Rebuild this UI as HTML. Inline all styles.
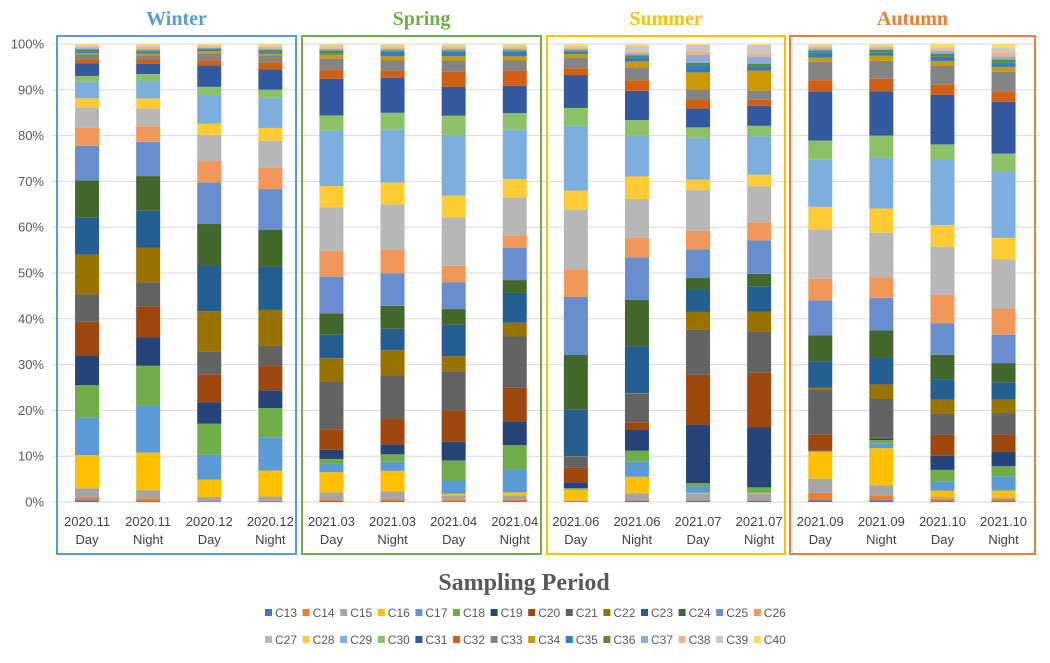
<!DOCTYPE html>
<html><head><meta charset="utf-8"><style>
body{margin:0;background:#fff;width:1050px;height:658px;overflow:hidden;font-family:"Liberation Sans",sans-serif}
svg text{font-family:"Liberation Sans",sans-serif}
</style></head><body>
<svg id="chart" width="1050" height="658" xmlns="http://www.w3.org/2000/svg"></svg>
<script>
const categories=["2020.11|Day","2020.11|Night","2020.12|Day","2020.12|Night","2021.03|Day","2021.03|Night","2021.04|Day","2021.04|Night","2021.06|Day","2021.06|Night","2021.07|Day","2021.07|Night","2021.09|Day","2021.09|Night","2021.10|Day","2021.10|Night"];
const seriesNames=["C13","C14","C15","C16","C17","C18","C19","C20","C21","C22","C23","C24","C25","C26","C27","C28","C29","C30","C31","C32","C33","C34","C35","C36","C37","C38","C39","C40"];
const seriesColors=["#4472C4","#ED7D31","#A5A5A5","#FFC000","#5B9BD5","#70AD47","#264478","#9E480E","#636363","#997300","#255E91","#43682B","#698ED0","#F1975A","#B7B7B7","#FFCD33","#7CAFDD","#8CC168","#335AA1","#D26012","#848484","#CC9A00","#327DC2","#5A8A39","#8FAADC","#F4B183","#C9C9C9","#FFD966"];
// values per bar (rows = categories, columns = C13..C40), percent
const bar01=[0.4,0.6,2.0,7.3,8.2,7.1,6.5,7.4,6.0,8.7,8.2,8.1,7.6,3.9,4.5,2.0,3.6,1.3,2.8,0.7,1.2,0.3,0.4,0.4,0.3,0.3,0.3,0.3];
const bar02=[0.2,0.6,1.8,8.2,10.3,8.7,6.2,6.8,5.3,7.5,8.1,7.6,7.5,3.4,3.9,2.2,3.8,1.5,2.3,0.9,0.9,0.4,0.4,0.3,0.3,0.5,0.3,0.3];
const bar03=[0.1,0.1,0.9,3.8,5.5,6.8,4.7,6.0,5.1,8.9,10.0,9.1,9.1,4.7,5.8,2.4,6.3,1.8,4.7,1.1,1.5,0.5,0.3,0.3,0.2,0.3,0.3,0.2];
const bar04=[0.1,0.2,0.9,5.7,7.3,6.4,3.9,5.3,4.4,7.9,9.5,8.1,8.9,4.7,5.9,2.8,6.6,1.8,4.4,1.6,1.5,0.4,0.4,0.4,0.3,0.4,0.3,0.3];
const bar05=[0.2,0.4,1.5,4.4,2.0,0.9,2.0,4.5,10.3,5.2,5.1,4.7,8.0,5.6,9.5,4.7,12.1,3.3,8.0,2.0,2.4,0.9,0.3,0.6,0.3,0.4,0.4,0.3];
const bar06=[0.2,0.5,1.6,4.5,2.0,1.6,2.2,5.5,9.5,5.5,4.7,5.0,7.1,5.2,9.8,4.8,11.6,3.6,7.6,1.6,2.2,0.9,1.0,0.3,0.3,0.4,0.4,0.3];
const bar07=[0.1,0.4,0.9,0.4,2.9,4.4,4.1,6.8,8.6,3.3,6.9,3.4,5.9,3.6,10.6,4.7,13.3,4.2,6.3,3.3,2.5,0.9,1.0,0.3,0.3,0.4,0.4,0.3];
const bar08=[0.2,0.4,0.8,0.7,5.0,5.3,5.2,7.3,11.2,3.0,6.5,2.8,7.0,2.8,8.2,4.0,10.8,3.6,6.0,3.3,2.2,0.9,1.0,0.3,0.3,0.4,0.4,0.3];
const bar09=[0.1,0.1,0.1,2.4,0.2,0.1,1.3,3.3,2.3,0.1,10.3,11.9,12.7,6.0,13.2,4.1,14.2,3.9,7.2,1.5,2.4,0.7,0.5,0.3,0.3,0.3,0.4,0.4];
const bar10=[0.3,0.1,1.5,3.6,3.3,2.4,4.5,1.7,6.2,0.1,10.3,10.1,9.3,4.2,8.5,4.9,8.9,3.4,6.4,2.3,2.8,1.3,0.9,0.4,0.5,0.4,1.2,0.4];
const bar11=[0.3,0.1,1.5,0.1,1.4,0.7,12.8,10.9,9.8,3.9,4.9,2.5,6.3,4.0,8.9,2.3,9.1,2.3,4.1,2.0,2.2,3.7,1.6,0.5,1.7,0.7,1.5,0.2];
const bar12=[0.3,0.1,1.4,0.1,0.1,1.2,13.1,12.0,8.9,4.4,5.6,2.7,7.3,4.0,7.9,2.5,8.4,2.3,4.4,1.3,2.0,4.4,0.9,0.6,1.6,0.7,1.8,0.2];
const bar13=[0.4,1.6,3.1,5.8,0.1,0.1,0.1,3.6,9.7,0.5,5.8,5.6,7.7,4.7,10.8,4.9,10.3,4.2,10.7,2.5,4.0,0.9,1.2,0.4,0.4,0.4,0.3,0.3];
const bar14=[0.4,1.0,2.3,8.1,1.1,0.7,0.4,0.1,8.5,3.2,5.9,6.0,7.1,4.5,9.8,5.3,11.1,4.9,9.7,2.8,3.9,1.1,0.7,0.6,0.3,0.4,0.3,0.3];
const bar15=[0.2,0.5,0.4,1.4,2.0,2.5,3.1,4.6,4.5,3.1,4.5,5.3,6.9,6.2,10.5,4.7,14.2,3.4,10.8,2.2,4.1,1.1,0.9,0.7,0.6,0.5,0.3,0.7];
const bar16=[0.2,0.5,0.3,1.5,3.1,2.2,3.1,3.8,4.7,2.9,3.8,4.2,6.2,5.7,10.7,4.7,14.5,3.9,11.3,2.3,4.2,1.1,0.9,0.7,0.7,0.9,0.9,0.9];
const barValues=[bar01,bar02,bar03,bar04,bar05,bar06,bar07,bar08,bar09,bar10,bar11,bar12,bar13,bar14,bar15,bar16];
const yTicks=[0,10,20,30,40,50,60,70,80,90,100];
const groupNames=["Winter","Spring","Summer","Autumn"];
const groupColors=["#5B9BD5","#70AD47","#FFC000","#ED7D31"];

const NS="http://www.w3.org/2000/svg";
const svg=document.getElementById('chart');
function mk(tag,attrs,parent){const e=document.createElementNS(NS,tag);for(const k in attrs)e.setAttribute(k,attrs[k]);(parent||svg).appendChild(e);return e;}
const plotL=56.5,band=61.1,y0=502,y100=44,barW=24;
const xC=i=>plotL+band*(i+0.5);
const yS=v=>y0-(y0-y100)*v/100;

// gridlines + y labels
const grid=mk('g',{});


yTicks.forEach(t=>{
  const l=mk('line',{x1:52,x2:1040,y1:yS(t),y2:yS(t),stroke:'#d9d9d9','stroke-width':1},grid);
  
  
  const tx=mk('text',{x:44,y:yS(t)+4.5,'text-anchor':'end','font-size':13,fill:'#595959'});
  tx.textContent=t+'%';
  
  
});

// bars
categories.forEach((c,i)=>{
  const vals=barValues[i];const tot=vals.reduce((a,b)=>a+b,0);
  const g=mk('g',{});
  
  
  let cum=0;
  vals.forEach((v,s)=>{
    const p=v/tot*100;
    const r=mk('rect',{x:xC(i)-barW/2,y:yS(cum+p),width:barW,height:Math.max(0,yS(cum)-yS(cum+p)),fill:seriesColors[s]},g);
    
    
    cum+=p;
  });
  const [a,b]=c.split('|');
  const t1=mk('text',{x:xC(i),y:526,'text-anchor':'middle','font-size':13,fill:'#404040'});t1.textContent=a;
  
  
  const t2=mk('text',{x:xC(i),y:544,'text-anchor':'middle','font-size':13,fill:'#404040'});t2.textContent=b;
  
  
});

// season boxes
const boxes=[[57,296],[302,541],[547,785],[790,1035]];
groupNames.forEach((n,k)=>{
  const r=mk('rect',{x:boxes[k][0],y:36,width:boxes[k][1]-boxes[k][0],height:518,fill:'none',stroke:groupColors[k],'stroke-width':2});
  
  
  const t=mk('text',{x:(boxes[k][0]+boxes[k][1])/2,y:25,'text-anchor':'middle','font-size':20,'font-weight':'bold',fill:groupColors[k],style:'font-family:"Liberation Serif",serif'});
  t.textContent=n;
  
  
});

const xt=mk('text',{x:524,y:590,'text-anchor':'middle','font-size':24,'font-weight':'bold',fill:'#595959',style:'font-family:"Liberation Serif",serif'});
xt.textContent='Sampling Period';



// legend
const lg=mk('g',{});


seriesNames.forEach((n,s)=>{
  const row=Math.floor(s/14),col=s%14;
  const x=265+col*37.6,y=613+row*27;
  const g=mk('g',{},lg);
  
  
  mk('rect',{x:x,y:y-4,width:7,height:7,fill:seriesColors[s]},g);
  const t=mk('text',{x:x+10,y:y+4,'font-size':12,fill:'#595959'},g);t.textContent=n;
});
</script>
</body></html>
